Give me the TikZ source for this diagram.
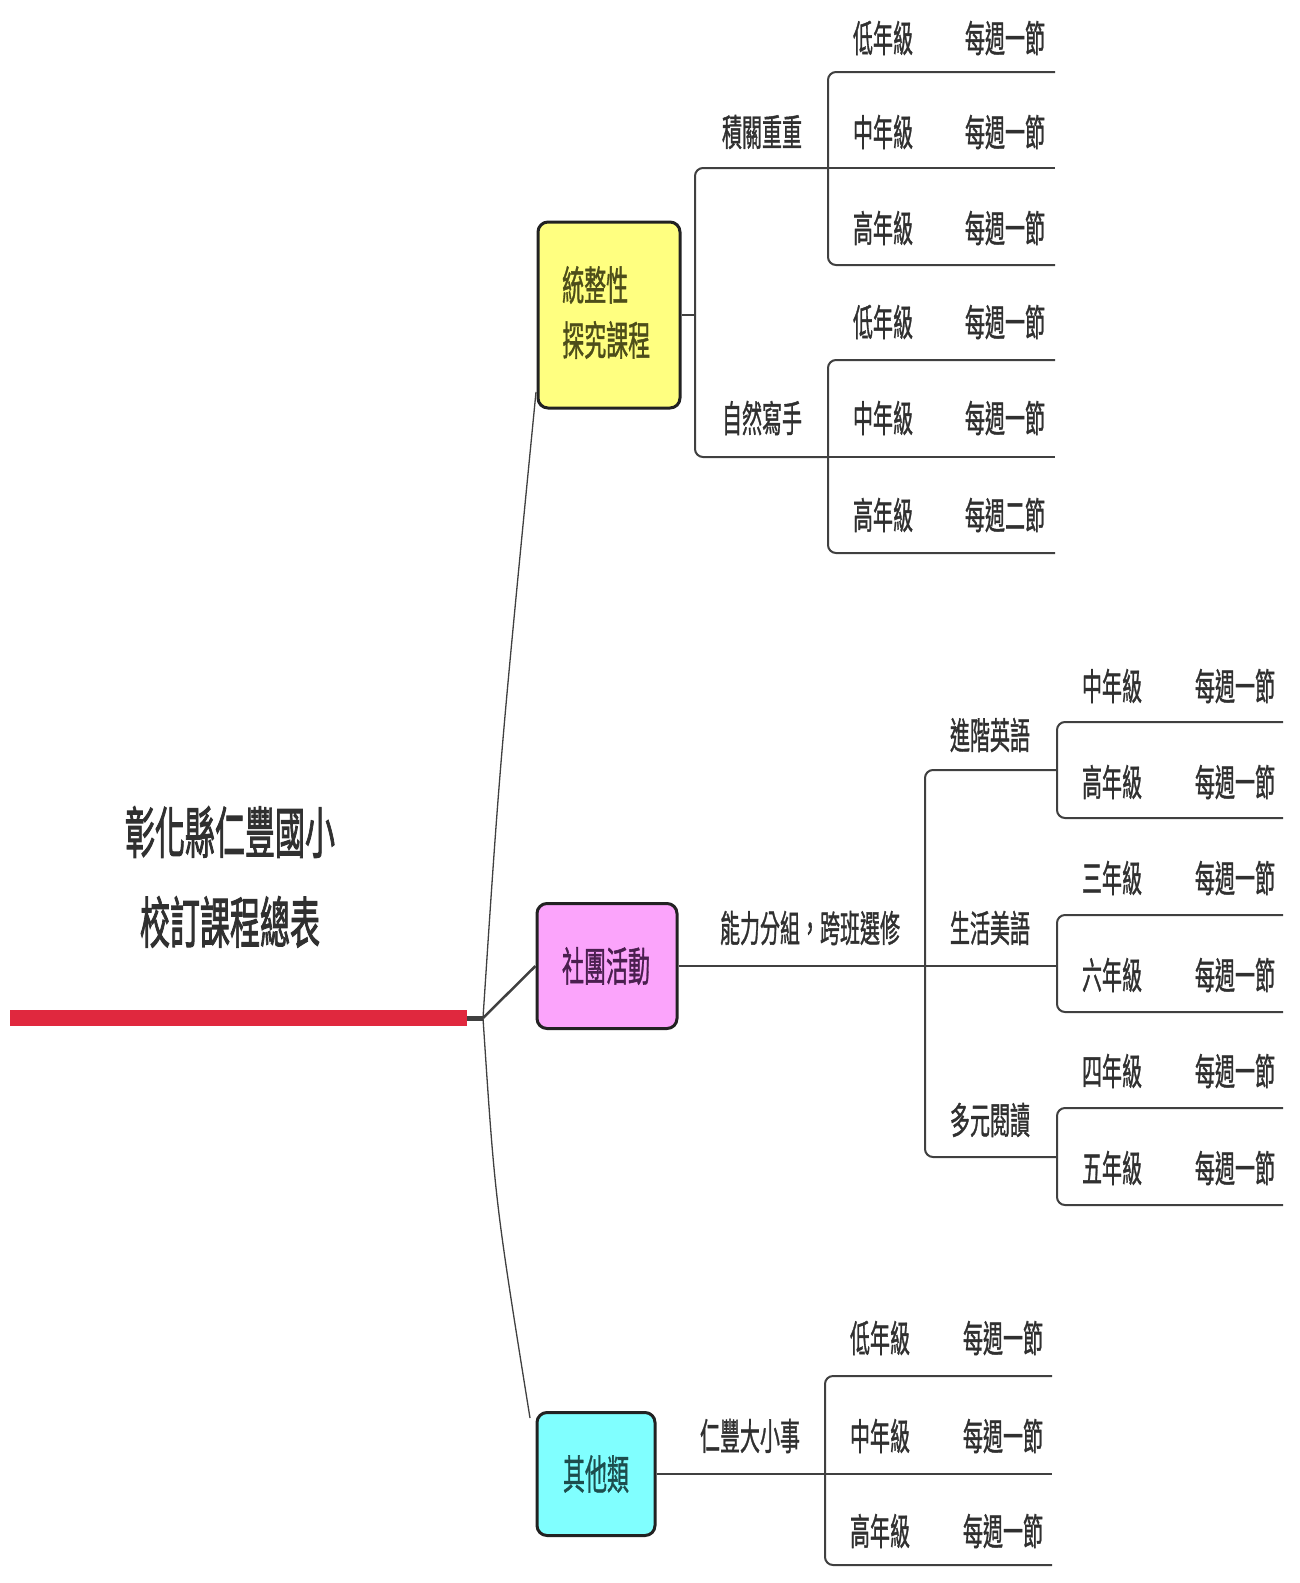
\documentclass[tikz,border=0pt]{standalone}
\usepackage{fontspec}
\usepackage{graphicx}
\newfontfamily\cjk{Noto Sans CJK TC}[FakeBold=1.3]
\newfontfamily\cjkb{Noto Sans CJK TC}[FakeBold=2.2]
\newcommand\vs[1]{\scalebox{1}[1.85]{#1}}
\definecolor{linec}{HTML}{404040}
\definecolor{redc}{HTML}{E0283E}
\definecolor{yellowc}{HTML}{FFFF80}
\definecolor{pinkc}{HTML}{FBA4FB}
\definecolor{cyanc}{HTML}{80FFFF}
\definecolor{boxline}{HTML}{222222}
\definecolor{txtc}{HTML}{303030}
\definecolor{ytxt}{HTML}{4D4D1A}
\definecolor{ptxt}{HTML}{4A1F4F}
\definecolor{ctxt}{HTML}{1D4D4D}
\begin{document}
\begin{tikzpicture}[x=1pt,y=-1pt,
  lbl/.style={font=\cjk\fontsize{20}{24}\selectfont, text=txtc, inner sep=0pt},
  ttl/.style={font=\cjkb\fontsize{30}{36}\selectfont, text=txtc, inner sep=0pt},
  boxt/.style={font=\cjk\fontsize{22}{26}\selectfont, inner sep=0pt},
  conn/.style={draw=linec, line width=2pt, rounded corners=8pt},
  topbox/.style={draw=boxline, line width=3pt, rounded corners=10pt, inner sep=0pt}
]
\useasboundingbox (0,0) rectangle (1300,1583);
\fill[white] (0,0) rectangle (1300,1583);

% title
\node[ttl] (t1) at (230,832) {\vs{彰化縣仁豐國小}};
\node[ttl] (t2) at (230,922) {\vs{校訂課程總表}};

% boxes
\node[topbox, fill=yellowc, minimum width=142pt, minimum height=186pt] (yb) at (609,315) {};
\node[boxt, text=ytxt, anchor=west] (yb1) at (562,285) {\vs{統整性}};
\node[boxt, text=ytxt, anchor=west] (yb2) at (562,340) {\vs{探究課程}};
\node[topbox, fill=pinkc, minimum width=140pt, minimum height=125pt] (pb) at (607,966) {};
\node[boxt, text=ptxt] (pb1) at (606,966) {\vs{社團活動}};
\node[topbox, fill=cyanc, minimum width=118pt, minimum height=123pt] (cb) at (596,1474) {};
\node[boxt, text=ctxt] (cb1) at (596,1474) {\vs{其他類}};

% central connectors
\coordinate (hub) at (483,1018);
\coordinate (barL) at (10,1018);
\coordinate (barR) at (467,1018);
\draw[redc, line width=16pt] (barL) -- (barR);
\draw[linec, line width=5pt] (barR) -- (hub);
\coordinate (yin) at (536,392);
\coordinate (cin) at (530,1418);
\draw[linec, line width=1.3pt] (hub) .. controls (500,760) .. (yin);
\draw[linec, line width=2.5pt] (hub) -- (pb.west);
\draw[linec, line width=1.3pt] (hub) .. controls (495,1200) .. (cin);

% ---------- yellow branch ----------
\coordinate (ya) at (695,315);
\coordinate (yv1) at (695,168);
\coordinate (yv2) at (695,457);
\coordinate (g1) at (828,168);
\coordinate (g2) at (828,457);
\draw[conn] (yb.east) -- (ya);
\draw[conn] (g1) -- (yv1) -- (yv2) -- (g2);
\node[lbl] (k1) at (762,132) {\vs{積關重重}};
\node[lbl] (k2) at (762,418) {\vs{自然寫手}};
% group 1
\coordinate (a1) at (828,72);  \coordinate (a1e) at (1055,72);
\coordinate (a2e) at (1055,168);
\coordinate (a3) at (828,265); \coordinate (a3e) at (1055,265);
\draw[conn] (a1e) -- (a1) -- (a3) -- (a3e);
\draw[conn] (g1) -- (a2e);
\node[lbl] (a1g) at (883,38) {\vs{低年級}};   \node[lbl] (a1w) at (1005,38) {\vs{每週一節}};
\node[lbl] (a2g) at (883,132) {\vs{中年級}};  \node[lbl] (a2w) at (1005,132) {\vs{每週一節}};
\node[lbl] (a3g) at (883,228) {\vs{高年級}};  \node[lbl] (a3w) at (1005,228) {\vs{每週一節}};
% group 2
\coordinate (b1) at (828,360);  \coordinate (b1e) at (1055,360);
\coordinate (b2e) at (1055,457);
\coordinate (b3) at (828,553); \coordinate (b3e) at (1055,553);
\draw[conn] (b1e) -- (b1) -- (b3) -- (b3e);
\draw[conn] (g2) -- (b2e);
\node[lbl] (b1g) at (883,322) {\vs{低年級}};   \node[lbl] (b1w) at (1005,322) {\vs{每週一節}};
\node[lbl] (b2g) at (883,418) {\vs{中年級}};  \node[lbl] (b2w) at (1005,418) {\vs{每週一節}};
\node[lbl] (b3g) at (883,515) {\vs{高年級}};  \node[lbl] (b3w) at (1005,515) {\vs{每週二節}};

% ---------- pink branch ----------
\coordinate (pv1) at (925,770);
\coordinate (pv2) at (925,1157);
\coordinate (h1) at (1057,770);
\coordinate (h2) at (1057,966);
\coordinate (h3) at (1057,1157);
\draw[conn] (pb.east) -- (h2);
\draw[conn] (h1) -- (pv1) -- (pv2) -- (h3);
\node[lbl] (p0) at (810,928) {\vs{能力分組，跨班選修}};
\node[lbl] (p1) at (990,735) {\vs{進階英語}};
\node[lbl] (p2) at (990,928) {\vs{生活美語}};
\node[lbl] (p3) at (990,1120) {\vs{多元閱讀}};
\coordinate (c1s) at (1283,722);  \coordinate (c1) at (1057,722);
\coordinate (c2) at (1057,818);   \coordinate (c2s) at (1283,818);
\coordinate (c3s) at (1283,915);  \coordinate (c3) at (1057,915);
\coordinate (c4) at (1057,1012);  \coordinate (c4s) at (1283,1012);
\coordinate (c5s) at (1283,1108); \coordinate (c5) at (1057,1108);
\coordinate (c6) at (1057,1205);  \coordinate (c6s) at (1283,1205);
\draw[conn] (c1s) -- (c1) -- (c2) -- (c2s);
\draw[conn] (c3s) -- (c3) -- (c4) -- (c4s);
\draw[conn] (c5s) -- (c5) -- (c6) -- (c6s);
\node[lbl] (c1g) at (1112,686) {\vs{中年級}};  \node[lbl] (c1w) at (1235,686) {\vs{每週一節}};
\node[lbl] (c2g) at (1112,782) {\vs{高年級}};  \node[lbl] (c2w) at (1235,782) {\vs{每週一節}};
\node[lbl] (c3g) at (1112,878) {\vs{三年級}};  \node[lbl] (c3w) at (1235,878) {\vs{每週一節}};
\node[lbl] (c4g) at (1112,975) {\vs{六年級}};  \node[lbl] (c4w) at (1235,975) {\vs{每週一節}};
\node[lbl] (c5g) at (1112,1071) {\vs{四年級}}; \node[lbl] (c5w) at (1235,1071) {\vs{每週一節}};
\node[lbl] (c6g) at (1112,1168) {\vs{五年級}}; \node[lbl] (c6w) at (1235,1168) {\vs{每週一節}};

% ---------- cyan branch ----------
\coordinate (d2e) at (1052,1474);
\coordinate (d1e) at (1052,1376); \coordinate (d1) at (825,1376);
\coordinate (d3) at (825,1565);   \coordinate (d3e) at (1052,1565);
\draw[conn] (cb.east) -- (d2e);
\draw[conn] (d1e) -- (d1) -- (d3) -- (d3e);
\node[lbl] (q0) at (750,1436) {\vs{仁豐大小事}};
\node[lbl] (d1g) at (880,1338) {\vs{低年級}};  \node[lbl] (d1w) at (1003,1338) {\vs{每週一節}};
\node[lbl] (d2g) at (880,1436) {\vs{中年級}};  \node[lbl] (d2w) at (1003,1436) {\vs{每週一節}};
\node[lbl] (d3g) at (880,1531) {\vs{高年級}};  \node[lbl] (d3w) at (1003,1531) {\vs{每週一節}};
\end{tikzpicture}
\end{document}
